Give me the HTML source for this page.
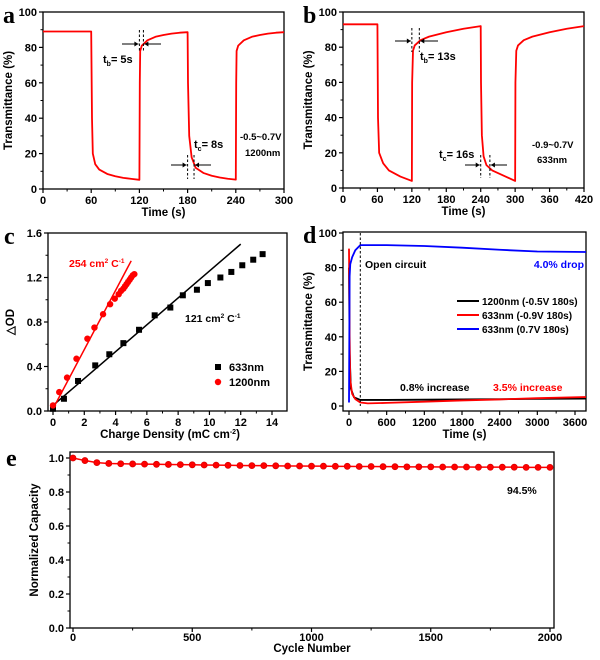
<!DOCTYPE html>
<html><head><meta charset="utf-8"><style>
html,body{margin:0;padding:0;background:#fff}
svg{display:block;font-family:"Liberation Sans",Arial,sans-serif;font-weight:bold}
</style></head><body>
<svg id="fig" width="600" height="660" viewBox="0 0 600 660"></svg>
<script>
// ---- Panel a data ----
const aTime=[0,60,61,62,65,70,80,90,100,110,120,120.5,121,123,130,140,150,160,170,180,180.5,182,185,190,200,210,220,230,240,240.5,241,243,250,260,270,280,290,300];
const aTrans=[89,89,40,20,14,11,8.5,7.2,6.3,5.7,5.2,60,78,81,84,86,87,87.8,88.3,88.6,60,30,18,12,9,7.5,6.5,5.8,5.3,60,78,81,84,86,87,87.8,88.3,88.6];
const aXTicks=[0,60,120,180,240,300];
const aYTicks=[0,20,40,60,80,100];
// ---- Panel b data ----
const bTime=[0,60,61,63,70,80,100,120,120.5,122,125,135,150,180,210,240,240.5,242,245,250,260,280,300,300.5,302,305,315,330,360,390,420];
const bTrans=[93,93,40,20,14,10,6.5,4,60,78,81,84,86,88.5,90.5,92,60,30,18,13,10,7,4,60,78,81,84,86,88.5,90.5,92];
const bXTicks=[0,60,120,180,240,300,360,420];
// ---- Panel c data ----
const c633Q=[0,0.7,1.6,2.7,3.6,4.5,5.5,6.5,7.5,8.3,9.2,9.9,10.7,11.4,12.1,12.8,13.4];
const c633OD=[0.02,0.11,0.27,0.41,0.51,0.61,0.73,0.86,0.93,1.04,1.09,1.15,1.2,1.25,1.31,1.36,1.41];
const c1200Q=[0,0.4,0.9,1.5,2.2,2.65,3.2,3.65,3.95,4.2,4.35,4.5,4.6,4.7,4.8,4.9,5.0,5.1,5.2];
const c1200OD=[0.05,0.17,0.3,0.47,0.65,0.75,0.87,0.96,1.01,1.05,1.08,1.1,1.12,1.14,1.16,1.18,1.2,1.22,1.23];
const cFitBlack=[[0,0.05],[12,1.5]];
const cFitRed=[[0,0.02],[5,1.35]];
const cXTicks=[0,2,4,6,8,10,12,14];
const cYTicks=[0,0.4,0.8,1.2,1.6];
// ---- Panel d data ----
const dBlueT=[0,10,20,50,100,180,600,1200,1800,2400,3000,3775];
const dBlueV=[2,75,82,86,90,93,93,92.5,91.5,90.3,89.3,89];
const dRedT=[0,10,20,50,100,180,300,600,1200,1800,2400,3000,3775];
const dRedV=[91,40,15,7,4,2,1.5,1.8,2.5,3.2,3.8,4.5,5.2];
const dBlackT=[0,10,30,80,180,600,1800,3000,3775];
const dBlackV=[80,30,10,5,3.5,3.5,3.8,4.1,4.3];
const dXTicks=[0,600,1200,1800,2400,3000,3600];
// ---- Panel e data ----
const eCycles=[0,50,100,150,200,250,300,350,400,450,500,550,600,650,700,750,800,850,900,950,1000,1050,1100,1150,1200,1250,1300,1350,1400,1450,1500,1550,1600,1650,1700,1750,1800,1850,1900,1950,2000];
const eCap=[1.0,0.985,0.973,0.968,0.966,0.965,0.964,0.963,0.962,0.961,0.960,0.959,0.958,0.957,0.956,0.955,0.955,0.954,0.953,0.953,0.952,0.952,0.951,0.951,0.950,0.950,0.949,0.949,0.948,0.948,0.948,0.947,0.947,0.947,0.946,0.946,0.946,0.946,0.945,0.945,0.945];
const eXTicks=[0,500,1000,1500,2000];
const eYTicks=[0,0.2,0.4,0.6,0.8,1.0];

const NS="http://www.w3.org/2000/svg";
const svg=document.getElementById('fig');
function mk(tag,attrs,parent){const e=document.createElementNS(NS,tag);for(const k in attrs)e.setAttribute(k,attrs[k]);(parent||svg).appendChild(e);return e;}
function txt(s,x,y,size,anchor,fill,parent,extra){const t=mk('text',Object.assign({x:x,y:y,'font-size':size,'text-anchor':anchor||'start',fill:fill||'#000'},extra||{}),parent);t.textContent=s;return t;}
function scale(d0,d1,r0,r1){return v=>r0+(v-d0)*(r1-r0)/(d1-d0);}

function axes(g,box,sx,sy,xt,yt,xfmt,yfmt,xlabel,ylabel,ylx,tOff,lOff){
  tOff=tOff||15;lOff=lOff||27;
  const r=mk('rect',{x:box.l,y:box.t,width:box.r-box.l,height:box.b-box.t,fill:'none',stroke:'#000','stroke-width':1.3},g);
  
  xt.forEach((v,i)=>{const x=sx(v);mk('line',{x1:x,y1:box.b,x2:x,y2:box.b+4,stroke:'#000','stroke-width':1.2},g);
    if(i<xt.length-1){const xm=sx((v+xt[i+1])/2);mk('line',{x1:xm,y1:box.b,x2:xm,y2:box.b+2.5,stroke:'#000','stroke-width':1},g);}
    const t=txt(xfmt(v),x,box.b+tOff,11,'middle',null,g);});
  yt.forEach((v,i)=>{const y=sy(v);mk('line',{x1:box.l,y1:y,x2:box.l-4,y2:y,stroke:'#000','stroke-width':1.2},g);
    if(i<yt.length-1){const ym=sy((v+yt[i+1])/2);mk('line',{x1:box.l,y1:ym,x2:box.l-2.5,y2:ym,stroke:'#000','stroke-width':1},g);}
    const t=txt(yfmt(v),box.l-6,y+4,11,'end',null,g);});
  if(xlabel){const xl=txt(xlabel,(box.l+box.r)/2,box.b+lOff,11.5,'middle',null,g);}
  const cy=(box.t+box.b)/2;const yl=txt(ylabel,ylx,cy,11.5,'middle',null,g,{transform:'rotate(-90 '+ylx+' '+cy+')'});
}
function line(g,xs,ys,sx,sy,color,w,name){const p=xs.map((v,i)=>sx(v).toFixed(2)+','+sy(ys[i]).toFixed(2)).join(' ');
  const e=mk('polyline',{points:p,fill:'none',stroke:color,'stroke-width':w||1.8,'stroke-linejoin':'round'},g);return e;}
function dash(g,x,y1,y2){mk('line',{x1:x,y1:y1,x2:x,y2:y2,stroke:'#000','stroke-width':1,'stroke-dasharray':'2.5,2'},g);}
function arrow(g,x1,x2,y){mk('line',{x1:x1,y1:y,x2:x2,y2:y,stroke:'#000','stroke-width':1},g);const d=x2>x1?-4:4;mk('polygon',{points:x2+','+y+' '+(x2+d)+','+(y-2.5)+' '+(x2+d)+','+(y+2.5)},g);}
function letter(s,x,y){const t=txt(s,x,y,24,'start',null,null,{'font-family':'Liberation Serif,serif'});}
function label(g,s,x,y,size,anchor,fill,name){const t=txt(s,x,y,size,anchor,fill,g);return t;}
const f0=v=>String(v);

// Panel a
(function(){const g=mk('g',{});
 const box={l:43,r:284,t:12,b:189};const sx=scale(0,300,box.l,box.r),sy=scale(0,100,box.b,box.t);
 axes(g,box,sx,sy,aXTicks,aYTicks,f0,f0,'Time (s)','Transmittance (%)',12);
 line(g,aTime,aTrans,sx,sy,'#f00',1.8,'transmittance-curve');
 dash(g,sx(120),30,52);dash(g,sx(125),30,52);arrow(g,122,sx(120)-1,44);arrow(g,161,sx(125)+1,44);
 dash(g,sx(180),155,179);dash(g,sx(188),155,179);arrow(g,171,sx(180)-1,165);arrow(g,211,sx(188)+1,165);
 const t1=label(g,'t',103,63,11,'start',null,'tb-label');t1.innerHTML='t<tspan font-size="7" dy="3">b</tspan><tspan dy="-3">= 5s</tspan>';
 const t2=label(g,'t',194,148,11,'start',null,'tc-label');t2.innerHTML='t<tspan font-size="7" dy="3">c</tspan><tspan dy="-3">= 8s</tspan>';
 label(g,'-0.5~0.7V',240,140,9.5,'start',null,'voltage-label');label(g,'1200nm',245,156,9.5,'start',null,'wavelength-label');
})();
letter('a',3,23);

// Panel b
(function(){const g=mk('g',{});
 const box={l:343,r:584,t:12,b:188};const sx=scale(0,420,box.l,box.r),sy=scale(0,100,box.b,box.t);
 axes(g,box,sx,sy,bXTicks,aYTicks,f0,f0,'Time (s)','Transmittance (%)',312);
 line(g,bTime,bTrans,sx,sy,'#f00',1.8,'transmittance-curve');
 dash(g,sx(120),28,52);dash(g,sx(133),28,52);arrow(g,395,sx(120)-1,41);arrow(g,438,sx(133)+1,41);
 dash(g,sx(240),155,178);dash(g,sx(256),155,178);arrow(g,465,sx(240)-1,165);arrow(g,507,sx(256)+1,165);
 const t1=label(g,'t',420,60,11,'start',null,'tb-label');t1.innerHTML='t<tspan font-size="7" dy="3">b</tspan><tspan dy="-3">= 13s</tspan>';
 const t2=label(g,'t',439,158,11,'start',null,'tc-label');t2.innerHTML='t<tspan font-size="7" dy="3">c</tspan><tspan dy="-3">= 16s</tspan>';
 label(g,'-0.9~0.7V',532,148,9.5,'start',null,'voltage-label');label(g,'633nm',537,163,9.5,'start',null,'wavelength-label');
})();
letter('b',303,23);

// Panel c
(function(){const g=mk('g',{});
 const box={l:48,r:287,t:233,b:411};const sx=scale(0,14,53,272),sy=scale(0,1.6,box.b,box.t);
 axes(g,box,sx,sy,cXTicks,cYTicks,f0,v=>v.toFixed(1),'','\u25B3OD',14);
 const xl=label(g,'',170,438,11.5,'middle',null,'x-axis-title');xl.innerHTML='Charge Density (mC cm<tspan font-size="7" dy="-4">-2</tspan><tspan dy="4">)</tspan>';
 line(g,cFitBlack.map(p=>p[0]),cFitBlack.map(p=>p[1]),sx,sy,'#000',1.5,'fit-line-633');
 line(g,cFitRed.map(p=>p[0]),cFitRed.map(p=>p[1]),sx,sy,'#f00',1.5,'fit-line-1200');
 c633Q.forEach((q,i)=>{const r=mk('rect',{x:sx(q)-3,y:sy(c633OD[i])-3,width:6,height:6,fill:'#000'},g);});
 c1200Q.forEach((q,i)=>{const c=mk('circle',{cx:sx(q),cy:sy(c1200OD[i]),r:3.2,fill:'#f00'},g);});
 const r1=label(g,'',69,267,10.5,'start','#f00','slope-label-1200');r1.innerHTML='254 cm<tspan font-size="6.5" dy="-4">2</tspan><tspan dy="4"> C</tspan><tspan font-size="6.5" dy="-4">-1</tspan>';
 const r2=label(g,'',185,322,10.5,'start',null,'slope-label-633');r2.innerHTML='121 cm<tspan font-size="6.5" dy="-4">2</tspan><tspan dy="4"> C</tspan><tspan font-size="6.5" dy="-4">-1</tspan>';
 const lg=mk('g',{},g);
 mk('rect',{x:215,y:364,width:6,height:6,fill:'#000'},lg);label(lg,'633nm',229,371,11,'start',null,'legend-entry-633nm');
 mk('circle',{cx:218,cy:382,r:3.2,fill:'#f00'},lg);label(lg,'1200nm',229,386,11,'start',null,'legend-entry-1200nm');
})();
letter('c',4,244);

// Panel d
(function(){const g=mk('g',{});
 const box={l:343,r:586,t:232,b:411};const sx=scale(0,3600,349,575),sy=scale(0,100,406,233);
 axes(g,box,sx,sy,dXTicks,aYTicks,f0,f0,'Time (s)','Transmittance (%)',312);
 line(g,dBlackT,dBlackV,sx,sy,'#000',1.8,'series-1200nm');
 line(g,dRedT,dRedV,sx,sy,'#f00',1.8,'series-633nm-reduced');
 line(g,dBlueT,dBlueV,sx,sy,'#00f',1.8,'series-633nm-oxidized');
 dash(g,sx(180),233,406);
 label(g,'Open circuit',365,268,10.5,'start',null,'open-circuit-label');
 label(g,'4.0% drop',584,268,10.5,'end','#00f','drop-label');
 label(g,'0.8% increase',400,391,10.5,'start',null,'increase-label-black');
 label(g,'3.5% increase',493,391,10.5,'start','#f00','increase-label-red');
 const lg=mk('g',{},g);
 [['#000','1200nm (-0.5V 180s)',301],['#f00','633nm (-0.9V 180s)',315],['#00f','633nm (0.7V 180s)',329]].forEach(e=>{
  mk('line',{x1:457,y1:e[2],x2:479,y2:e[2],stroke:e[0],'stroke-width':2},lg);
  label(lg,e[1],482,e[2]+4,10,'start',null,'legend-entry');});
})();
letter('d',303,243);

// Panel e
(function(){const g=mk('g',{});
 const box={l:70,r:554,t:452,b:628};const sx=scale(0,2000,73,550),sy=scale(0,1,628,458);
 axes(g,box,sx,sy,eXTicks,eYTicks,f0,v=>v.toFixed(1),'Cycle Number','Normalized Capacity',38,13,24);
 line(g,eCycles,eCap,sx,sy,'#f00',1.5,'capacity-line');
 eCycles.forEach((c,i)=>{const p=mk('circle',{cx:sx(c),cy:sy(eCap[i]),r:3,fill:'#f00',stroke:'#d00','stroke-width':0.8},g);});
 label(g,'94.5%',507,494,10.5,'start',null,'retention-label');
})();
letter('e',6,466);
</script>
</body></html>
